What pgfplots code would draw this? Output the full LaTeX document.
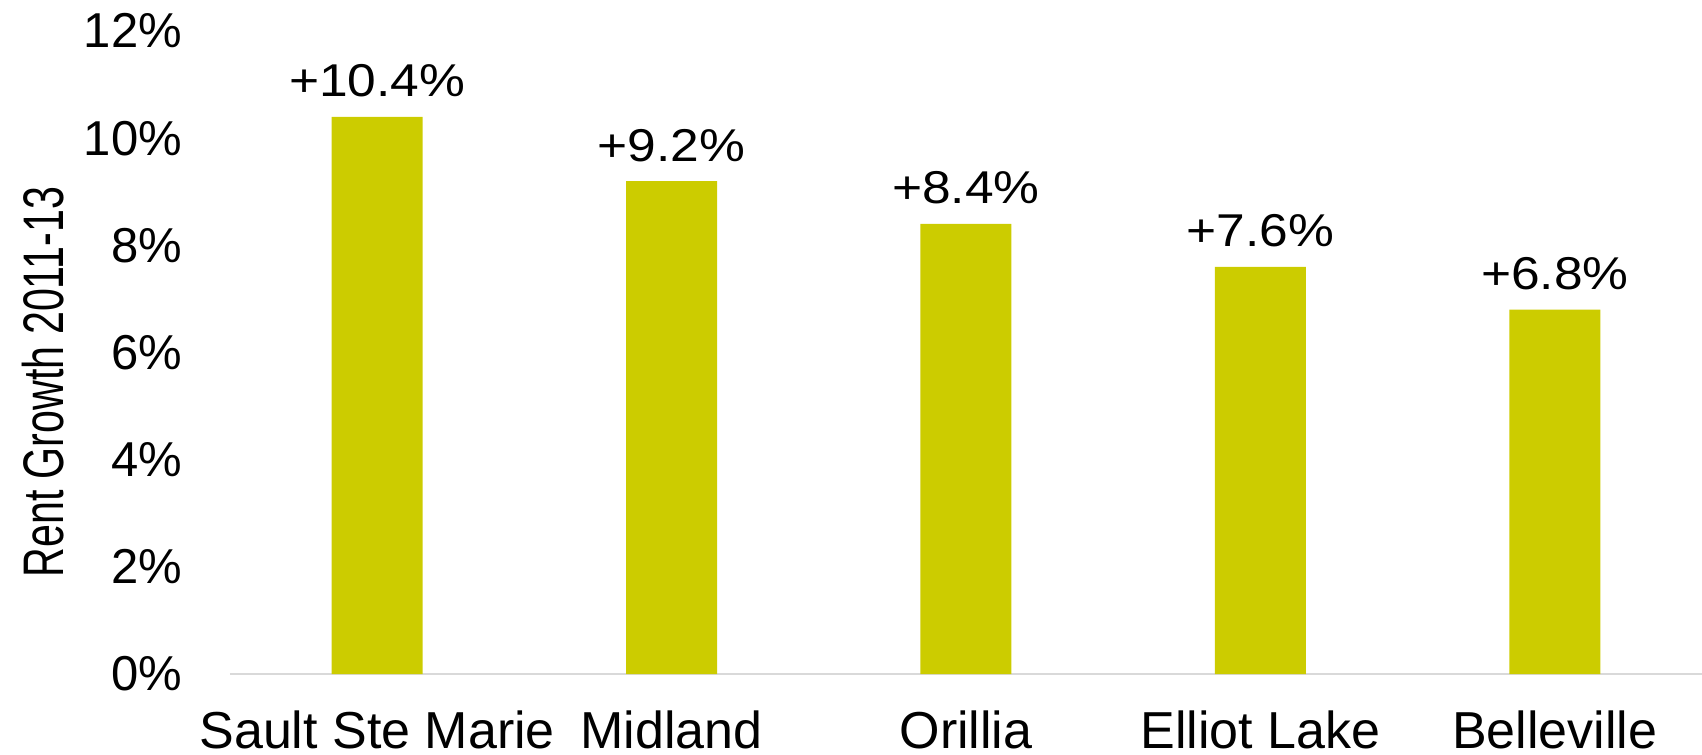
\documentclass[border=0pt]{standalone}
\usepackage{pgfplots}
\pgfplotsset{compat=1.18}
\usepackage{fontspec}
\setmainfont{Liberation Sans}
\newfontfamily\fbar[FakeStretch=1.12]{Liberation Sans}
\newfontfamily\fylab[FakeStretch=0.72]{Liberation Sans}
\definecolor{barcol}{RGB}{204,204,0}
\definecolor{axgrey}{RGB}{217,217,217}
\begin{document}
\begin{tikzpicture}
\begin{axis}[
  at={(0,0)}, anchor=south west,
  scale only axis,
  width=368pt, height=160.75pt,
  xmin=-0.5, xmax=4.5, ymin=0, ymax=12,
  clip=false,
  axis x line*=bottom,
  axis y line*=left,
  x axis line style={draw=axgrey, line width=0.5pt, -},
  y axis line style={draw=none, -},
  major tick length=0pt,
  xtick={0,1,2,3,4},
  xticklabels={Sault Ste Marie, Midland, Orillia, Elliot Lake, Belleville},
  xticklabel style={anchor=base, yshift=-18.5pt, font=\fontsize{13}{15}\selectfont},
  ytick={0,2,4,6,8,10,12},
  /pgf/number format/assume math mode=true,
  yticklabel={\pgfmathprintnumber{\tick}\%},
  yticklabel style={anchor=east, xshift=-8.5pt, font=\fontsize{12.25}{14}\selectfont},
  ylabel={Rent Growth 2011-13},
  ylabel style={at={(axis description cs:-0.127,0.454)}, anchor=center, font=\fylab\fontsize{14.3}{16}\selectfont},
  ybar,
  bar width=22.75pt,
  point meta=explicit symbolic,
  nodes near coords,
  nodes near coords style={anchor=base, yshift=5pt, font=\fbar\fontsize{11.5}{13}\selectfont, text=black},
]
\addplot[fill=barcol, draw=none] coordinates {
  (0,10.4) [+10.4\%]
  (1,9.2) [+9.2\%]
  (2,8.4) [+8.4\%]
  (3,7.6) [+7.6\%]
  (4,6.8) [+6.8\%]
};
\end{axis}
\pgfresetboundingbox
\path (-57.5pt,-20pt) rectangle (368pt,168.5pt);
\end{tikzpicture}
\end{document}
